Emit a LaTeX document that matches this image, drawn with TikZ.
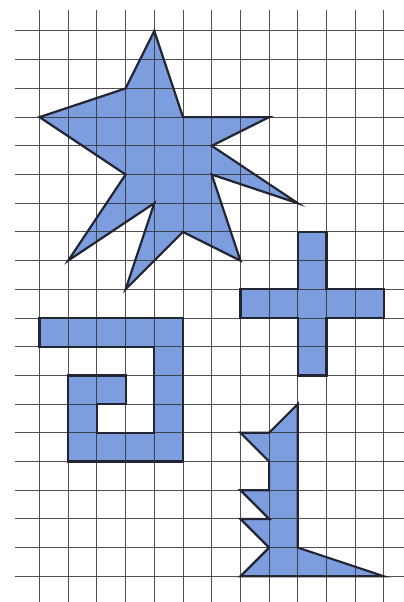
\documentclass[tikz,border=0pt]{standalone}
\usepackage{tikz}
\definecolor{shapefill}{RGB}{124,158,222}
\definecolor{shapeline}{RGB}{35,37,50}
\definecolor{gridline}{RGB}{50,50,55}
\tikzset{
  gridstyle/.style={draw=gridline, line width=1pt, opacity=0.85},
  figfill/.style={fill=shapefill},
  figline/.style={draw=shapeline, line width=2.2pt, line join=miter},
}
\def\starpath{(4,0) -- (5,3) -- (8,3) -- (6,4) -- (9,6) -- (6,5) -- (7,8) -- (5,7)
     -- (3,9) -- (4,6) -- (1,8) -- (3,5) -- (0,3) -- (3,2) -- cycle}
\def\crosspath{(9,7) -- (10,7) -- (10,9) -- (12,9) -- (12,10) -- (10,10) -- (10,12)
     -- (9,12) -- (9,10) -- (7,10) -- (7,9) -- (9,9) -- cycle}
\def\spiralpath{(0,10) -- (5,10) -- (5,15) -- (1,15) -- (1,12) -- (3,12) -- (3,13)
     -- (2,13) -- (2,14) -- (4,14) -- (4,11) -- (0,11) -- cycle}
\def\bootpath{(9,13) -- (9,18) -- (12,19) -- (7,19) -- (8,18) -- (7,17) -- (8,17)
     -- (7,16) -- (8,16) -- (8,15) -- (7,14) -- (8,14) -- cycle}
\begin{document}
\begin{tikzpicture}[x=1pt,y=-1pt]
\fill[white] (0,0) rectangle (404,602);
\useasboundingbox (0,0) rectangle (404,602);
\begin{scope}[shift={(39.5,31)}, x=28.7pt, y=-28.7pt]
  % fills
  \fill[figfill] \starpath;
  \fill[figfill] \crosspath;
  \fill[figfill] \spiralpath;
  \fill[figfill] \bootpath;
  % grid
  \foreach \i in {0,...,12} {\draw[gridstyle] (\i,-0.73) -- (\i,19.95);}
  \foreach \j in {0,...,19} {\draw[gridstyle] (-0.85,\j) -- (12.72,\j);}
  % outlines
  \draw[figline] \starpath;
  \draw[figline] \crosspath;
  \draw[figline] \spiralpath;
  \draw[figline] \bootpath;
\end{scope}
\end{tikzpicture}
\end{document}
